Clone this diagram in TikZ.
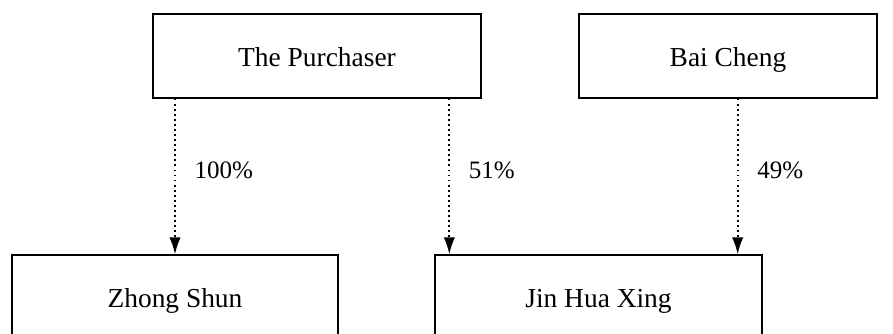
\documentclass[tikz,border=0pt]{standalone}
\usepackage{fontspec}
\setmainfont{Liberation Serif}
\usetikzlibrary{arrows.meta}
\begin{document}
\begin{tikzpicture}[x=0.025cm,y=-0.025cm,
    entity/.style={draw,line width=0.9pt,minimum height=2.1cm,inner sep=0pt,
                   text height=15.5pt,text depth=0pt,
                   font=\fontsize{19.5}{23}\selectfont},
    link/.style={line width=1.3pt,dash pattern=on 1.3pt off 2.3pt,
                 -{Latex[length=12pt,width=8pt]}},
    share/.style={font=\fontsize{17.8}{21}\selectfont,right,xshift=0.35cm}]
       \useasboundingbox (0,0) rectangle (893,334);

       \node[entity,minimum width=8.2cm] (purch) at (317,56) {The Purchaser};
       \node[entity,minimum width=7.45cm] (bai) at (728,56) {Bai Cheng};

       \node[entity,minimum width=8.15cm] (zs) at (175,297) {Zhong Shun};
       \node[entity,minimum width=8.175cm] (jhx) at (598.5,297) {Jin Hua Xing};

       \coordinate (jl) at ([xshift=0.375cm]jhx.north west);
       \coordinate (jr) at ([xshift=-0.625cm]jhx.north east);

       \draw[link] (purch.south -| zs.north) -- node[share,pos=0.46] {100\%} (zs.north);
       \draw[link] (purch.south -| jl) -- node[share,pos=0.46] {51\%} (jl);
       \draw[link] (bai.south -| jr) -- node[share,pos=0.46] {49\%} (jr);
   \end{tikzpicture}
\end{document}
